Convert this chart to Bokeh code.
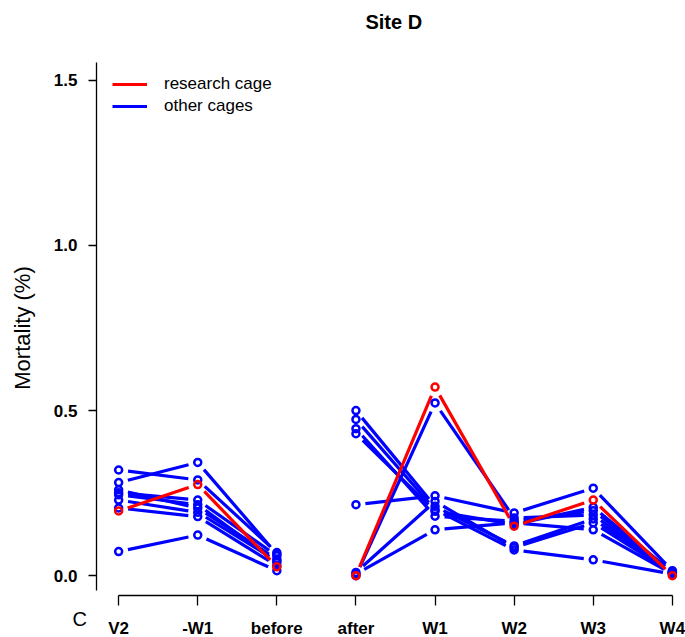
import numpy as np
from bokeh.plotting import figure
from bokeh.models import Range1d, FixedTicker, Legend, LegendItem, LinearAxis
from bokeh.embed import file_html
from bokeh.resources import INLINE

# Sampling stages along the x axis
stages = ["V2", "-W1", "before", "after", "W1", "W2", "W3", "W4"]
stage_pos = list(range(1, len(stages) + 1))

# Mortality (%) per stage
research_cage = [0.196, 0.276, 0.027, 0.000, 0.571, 0.150, 0.229, 0.000]

cage_1 = [0.320, 0.290, 0.070, 0.500, 0.210, 0.090, 0.172, 0.010]
cage_2 = [0.282, 0.343, 0.065, 0.473, 0.200, 0.078, 0.048, 0.005]
cage_3 = [0.260, 0.205, 0.050, 0.445, 0.180, 0.165, 0.197, 0.012]
cage_4 = [0.251, 0.229, 0.060, 0.430, 0.195, 0.155, 0.207, 0.010]
cage_5 = [0.229, 0.192, 0.045, 0.215, 0.242, 0.190, 0.265, 0.015]
cage_6 = [0.205, 0.179, 0.030, 0.000, 0.523, 0.175, 0.184, 0.010]
cage_7 = [0.245, 0.215, 0.040, 0.010, 0.225, 0.085, 0.160, 0.008]
cage_8 = [0.073, 0.123, 0.015, 0.005, 0.139, 0.160, 0.139, 0.005]
other_cages = [cage_1, cage_2, cage_3, cage_4, cage_5, cage_6, cage_7, cage_8]

# Runs of stages joined by lines (no line across the treatment gap)
runs = [(0, 3), (3, 8)]

y_ticks = [0.0, 0.5, 1.0, 1.5]

RED = "#FF0000"
BLUE = "#0000FF"
FONT = "Liberation Sans"
NBSP = "\u00a0"

W, H = 685, 637
left, right, top, bottom = 96, 0, 60, 42
x0, y0, y1 = 0.72, -0.06, 1.56
frame_w = W - left - right
frame_h = H - top - bottom
px_per_x = 79.1
x1 = x0 + frame_w / px_per_x
px_per_y = frame_h / (y1 - y0)

p = figure(width=W, height=H, output_backend="svg", toolbar_location=None,
           x_range=Range1d(x0, x1), y_range=Range1d(y0, y1),
           min_border_left=left, min_border_right=right,
           min_border_top=top, min_border_bottom=bottom)
p.outline_line_color = None
p.grid.grid_line_color = None
p.background_fill_color = "white"
p.border_fill_color = "white"


def gapped_segments(values, gap=9.5):
    """Lines between consecutive points, trimmed near each point (type='b' look)."""
    xs0, ys0, xs1, ys1 = [], [], [], []
    for a, b in runs:
        for i in range(a, b - 1):
            xa, xb = stage_pos[i], stage_pos[i + 1]
            ya, yb = values[i], values[i + 1]
            dx = (xb - xa) * px_per_x
            dy = (yb - ya) * px_per_y
            L = np.hypot(dx, dy)
            if L <= 2 * gap:
                continue
            f = gap / L
            xs0.append(xa + (xb - xa) * f)
            ys0.append(ya + (yb - ya) * f)
            xs1.append(xb - (xb - xa) * f)
            ys1.append(yb - (yb - ya) * f)
    return xs0, ys0, xs1, ys1


LW = 3.2
blue_rs = []
for cage in other_cages:
    a, b, c, d = gapped_segments(cage)
    blue_rs.append(p.segment(a, b, c, d, line_color=BLUE, line_width=LW))

a, b, c, d = gapped_segments(research_cage)
red_r = p.segment(a, b, c, d, line_color=RED, line_width=LW)

for cage in other_cages:
    p.scatter(stage_pos, cage, marker="circle", size=7, fill_color=None,
              line_color=BLUE, line_width=2.5)
p.scatter(stage_pos, research_cage, marker="circle", size=7, fill_color=None,
          line_color=RED, line_width=2.5)

# Bottom axis: stage names, plus the "C" tag at its start
xa = p.xaxis[0]
xa.ticker = FixedTicker(ticks=stage_pos)
xa.major_label_overrides = {i: s for i, s in zip(stage_pos, stages)}
xa.bounds = (stage_pos[0], stage_pos[-1])
xa.minor_tick_line_color = None
xa.major_tick_in = 0
xa.major_tick_out = 10
xa.major_label_standoff = 13
xa.major_label_text_font = FONT
xa.major_label_text_font_size = "17px"
xa.major_label_text_font_style = "bold"
xa.major_label_text_color = "black"
xa.axis_line_color = "black"
xa.major_tick_line_color = "black"
xa.axis_line_width = 1.3
xa.major_tick_line_width = 1.3
xa.axis_label = "C" + NBSP * 6
xa.axis_label_align = "start"
xa.axis_label_standoff = -33
xa.axis_label_text_font = FONT
xa.axis_label_text_font_size = "20px"
xa.axis_label_text_font_style = "normal"
xa.axis_label_text_color = "black"

ya = p.yaxis[0]
ya.ticker = FixedTicker(ticks=y_ticks)
ya.major_label_overrides = {t: f"{t:.1f}" for t in y_ticks}
ya.bounds = (-0.045, 1.555)
ya.minor_tick_line_color = None
ya.major_tick_in = 0
ya.major_tick_out = 8
ya.major_label_standoff = 11
ya.major_label_orientation = "horizontal"
ya.major_label_text_font = FONT
ya.major_label_text_font_size = "17px"
ya.major_label_text_font_style = "bold"
ya.major_label_text_color = "black"
ya.axis_line_color = "black"
ya.major_tick_line_color = "black"
ya.axis_line_width = 1.3
ya.major_tick_line_width = 1.3
ya.axis_label = "Mortality (%)"
ya.axis_label_text_font = FONT
ya.axis_label_text_font_size = "22px"
ya.axis_label_text_font_style = "normal"
ya.axis_label_text_color = "black"
ya.axis_label_standoff = 16

# Main title, carried by a bare axis along the top edge
top_axis = LinearAxis(ticker=FixedTicker(ticks=[]), axis_line_color=None,
                      major_tick_out=0, major_tick_in=0, minor_tick_out=0,
                      minor_tick_in=0, axis_label=NBSP + "Site D",
                      axis_label_standoff=28, axis_label_text_font=FONT,
                      axis_label_text_font_size="20px",
                      axis_label_text_font_style="bold",
                      axis_label_text_color="black")
p.add_layout(top_axis, "above")

legend = Legend(items=[LegendItem(label="research cage", renderers=[red_r]),
                       LegendItem(label="other cages", renderers=[blue_rs[0]])],
                location=(16, frame_h - 12 - 44), orientation="vertical",
                glyph_width=35, glyph_height=20, label_height=20, spacing=2,
                padding=0, margin=0, label_standoff=17,
                label_text_font=FONT, label_text_font_size="17px",
                label_text_color="black",
                border_line_alpha=0, background_fill_alpha=0)
p.add_layout(legend)

open("out.html", "w").write(file_html(p, INLINE))
